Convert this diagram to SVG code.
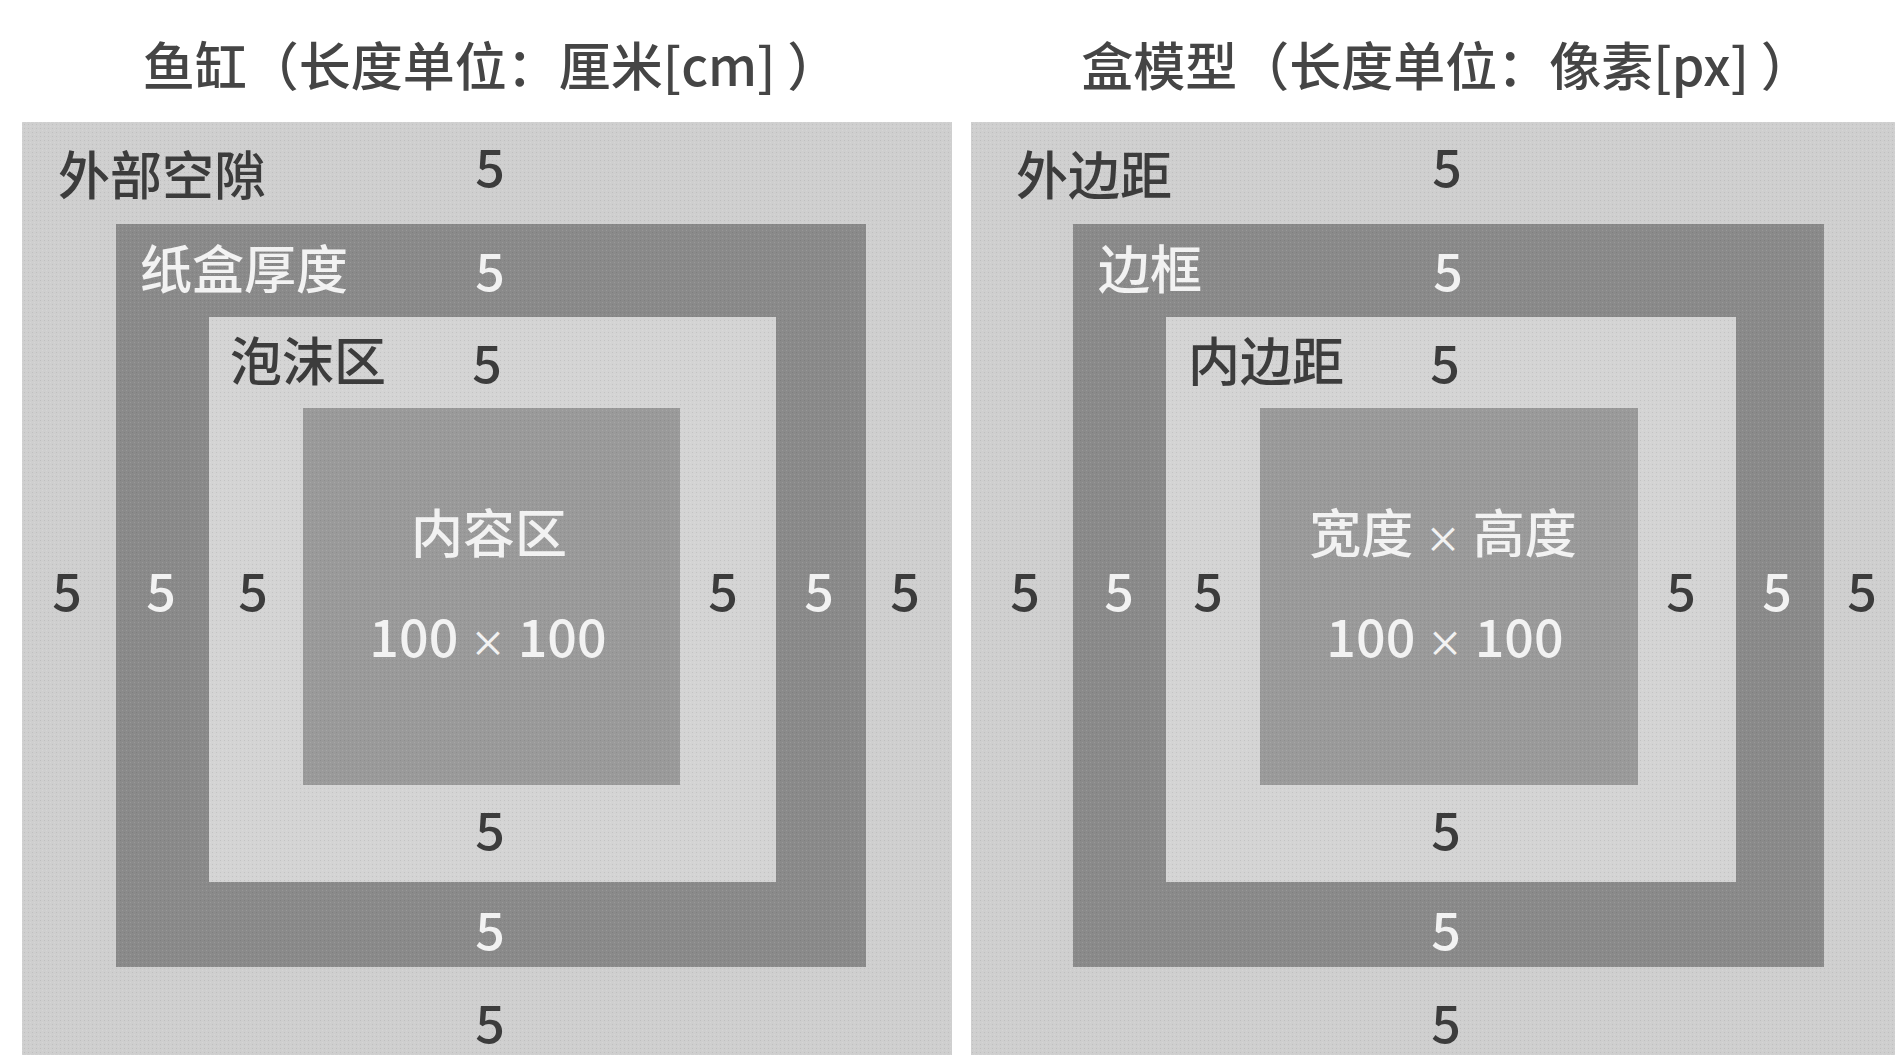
<svg xmlns="http://www.w3.org/2000/svg" width="1895" height="1055" viewBox="0 0 1895 1055">
<style>
text{font-family:"Noto Sans CJK SC","Noto Sans",sans-serif;font-size:52px;font-weight:500}
.title{fill:#454545;font-size:52px}
.dk{fill:#3c3c3c}
.wt{fill:#f2f2f2}
.mid{text-anchor:middle}
.x{font-size:36px}
.outer{fill:#cfcfcf}
.border{fill:#8a8a8a}
.pad{fill:#d4d4d4}
.content{fill:#9a9a9a}
</style>
<defs>
<pattern id="tex" width="4" height="4" patternUnits="userSpaceOnUse">
<rect x="0" y="0" width="1" height="1" fill="#000" opacity="0.08"/>
<rect x="2" y="2" width="1" height="1" fill="#fff" opacity="0.12"/>
</pattern>
</defs>
<rect width="1895" height="1055" fill="#ffffff"/>

<g id="title-left"><text class="title mid" x="491" y="86">鱼缸（长度单位：厘米[cm] ）</text></g>
<g id="title-right"><text class="title mid" x="1447" y="86">盒模型（长度单位：像素[px] ）</text></g>

<g id="fishtank">
<g id="gap-outer"><rect class="outer" x="22" y="122" width="930" height="933"/></g>
<g id="carton"><rect class="border" x="116" y="224" width="750" height="743"/></g>
<g id="foam"><rect class="pad" x="209" y="317" width="567" height="565"/></g>
<g id="contents"><rect class="content" x="303" y="408" width="377" height="377"/></g>
<rect x="22" y="122" width="930" height="933" fill="url(#tex)"/>
<text class="dk" x="58" y="195">外部空隙</text>
<text class="dk mid" x="490" y="187">5</text>
<text class="wt" x="140" y="289">纸盒厚度</text>
<text class="wt mid" x="490" y="291">5</text>
<text class="dk" x="230" y="381">泡沫区</text>
<text class="dk mid" x="487" y="383">5</text>
<text class="wt mid" x="489" y="553">内容区</text>
<text class="wt mid" x="488" y="657">100 <tspan class="x">×</tspan> 100</text>
<text class="dk mid" x="67" y="611">5</text>
<text class="wt mid" x="161" y="611">5</text>
<text class="dk mid" x="253" y="611">5</text>
<text class="dk mid" x="723" y="611">5</text>
<text class="wt mid" x="819" y="611">5</text>
<text class="dk mid" x="905" y="611">5</text>
<text class="dk mid" x="490" y="850">5</text>
<text class="wt mid" x="490" y="950">5</text>
<text class="dk mid" x="490" y="1043">5</text>
</g>

<g id="boxmodel">
<g id="margin"><rect class="outer" x="971" y="122" width="924" height="933"/></g>
<g id="border"><rect class="border" x="1073" y="224" width="751" height="743"/></g>
<g id="padding"><rect class="pad" x="1166" y="317" width="570" height="565"/></g>
<g id="content"><rect class="content" x="1260" y="408" width="378" height="377"/></g>
<rect x="971" y="122" width="924" height="933" fill="url(#tex)"/>
<text class="dk" x="1016" y="195">外边距</text>
<text class="dk mid" x="1447" y="187">5</text>
<text class="wt" x="1098" y="289">边框</text>
<text class="wt mid" x="1448" y="291">5</text>
<text class="dk" x="1188" y="381">内边距</text>
<text class="dk mid" x="1445" y="383">5</text>
<text class="wt mid" x="1443" y="553">宽度 <tspan class="x">×</tspan> 高度</text>
<text class="wt mid" x="1445" y="657">100 <tspan class="x">×</tspan> 100</text>
<text class="dk mid" x="1025" y="611">5</text>
<text class="wt mid" x="1119" y="611">5</text>
<text class="dk mid" x="1208" y="611">5</text>
<text class="dk mid" x="1681" y="611">5</text>
<text class="wt mid" x="1777" y="611">5</text>
<text class="dk mid" x="1862" y="611">5</text>
<text class="dk mid" x="1446" y="850">5</text>
<text class="wt mid" x="1446" y="950">5</text>
<text class="dk mid" x="1446" y="1043">5</text>
</g>

<g id="connectors"/>
</svg>
